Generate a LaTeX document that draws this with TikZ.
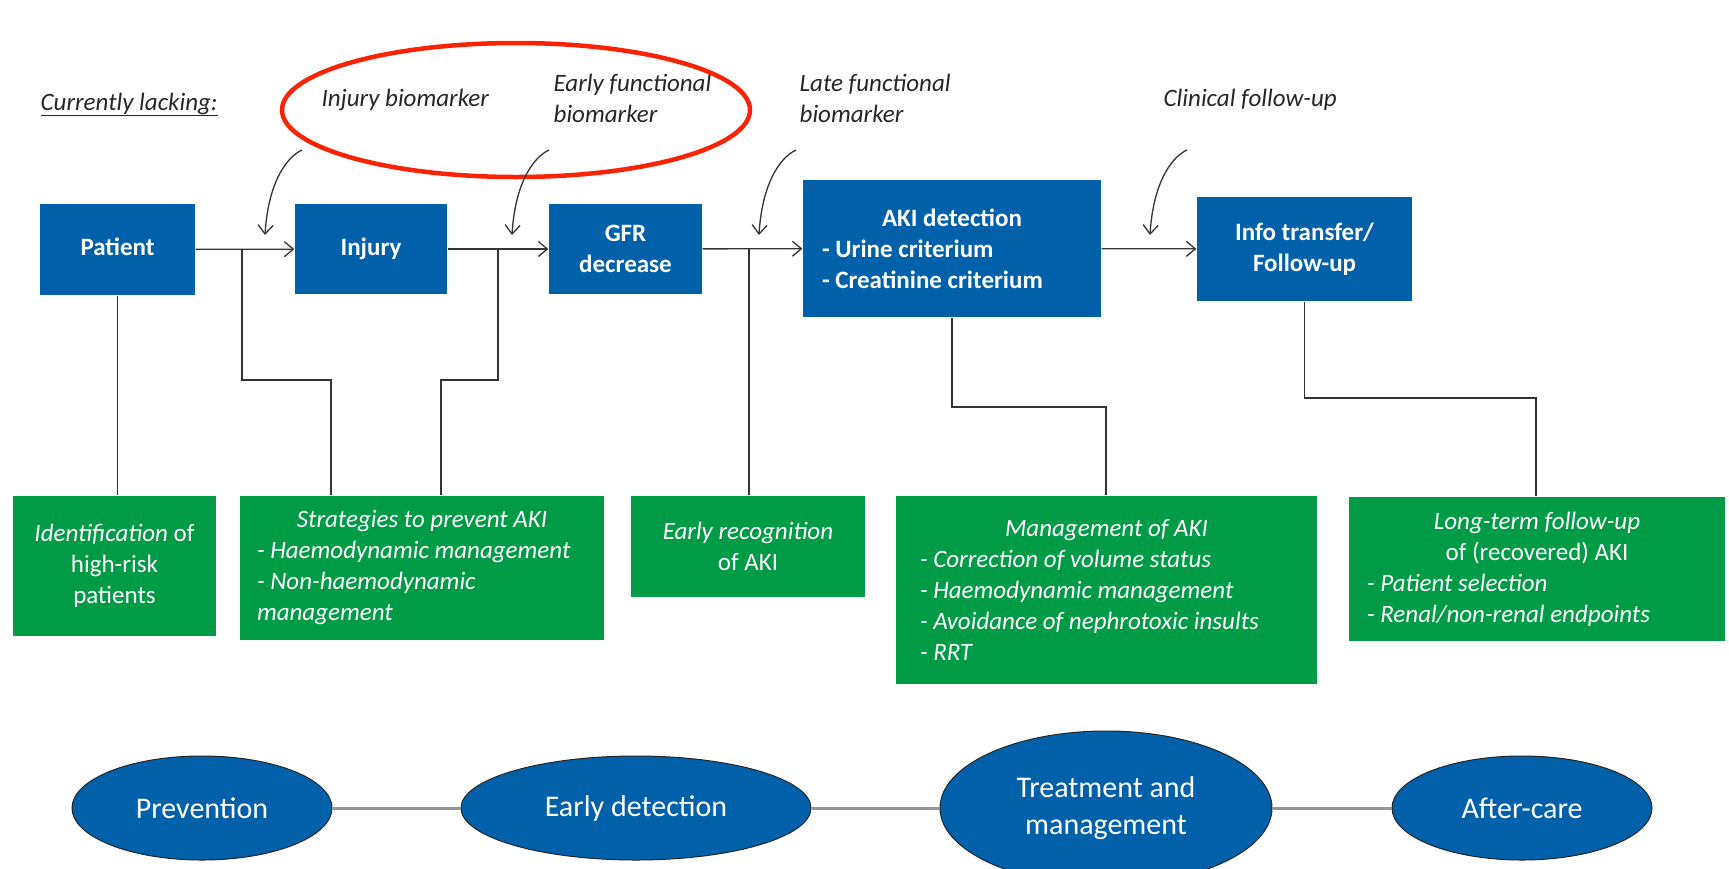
\documentclass[tikz,border=0pt]{standalone}
\usepackage{fontspec}
\setmainfont{Carlito}
\usetikzlibrary{arrows.meta,shapes.geometric}

\definecolor{akiblue}{RGB}{0,97,170}
\definecolor{akigreen}{RGB}{0,155,70}
\definecolor{akired}{RGB}{250,35,5}
\definecolor{linkgray}{RGB}{150,150,150}
\newcommand{\boxfont}{\fontsize{25}{31}\selectfont}

\begin{document}
\begin{tikzpicture}[x=1pt, y=-1pt, line width=1.3pt, draw=black!80,
    >={Straight Barb[length=9pt,width=15pt]},
    bluebox/.style = {fill=akiblue, text=white, font=\boxfont\bfseries, align=center, inner sep=0pt},
    greenbox/.style = {fill=akigreen, text=white, font=\boxfont, align=center, inner sep=0pt},
    phase/.style = {ellipse, draw=black!85, line width=1pt, fill=akiblue, text=white,
                    font=\fontsize{30}{37}\selectfont, align=center, inner sep=0pt},
    lack/.style = {text=black!85, font=\boxfont\itshape, align=left, inner sep=0pt, anchor=west},
    phaselink/.style = {draw=linkgray, line width=3pt}]

    \useasboundingbox (0,0) rectangle (1729,868);

    % currently lacking
    \node [lack, anchor=base west] (lacking) at (40,110) {\underline{Currently lacking:}};
    \node [lack] (injmark) at (321,100) {Injury biomarker};
    \node [lack] (earlymark) at (553,98) {Early functional\\biomarker};
    \node [lack] (latemark) at (799,98) {Late functional\\biomarker};
    \node [lack] (clinfollow) at (1163,100) {Clinical follow-up};
    \draw [akired, line width=4.5pt] (516,110) ellipse [x radius=234pt, y radius=67pt];

    % care pathway
    \node [bluebox, minimum width=155pt, minimum height=91pt] (patient) at (117.5,249.5) {\strut Patient};
    \node [bluebox, minimum width=152pt, minimum height=90pt] (injury) at (371,249) {\strut Injury};
    \node [bluebox, minimum width=153pt, minimum height=90pt] (gfr) at (625.5,249) {GFR\\decrease};
    \node [bluebox, align=left, inner xsep=19pt, minimum height=137pt] (aki) at (952,248.5)
        {\makebox[260pt]{AKI detection}\\- Urine criterium\\- Creatinine criterium};
    \node [bluebox, minimum width=215pt, minimum height=104pt] (info) at (1304.5,249) {Info transfer/\\Follow-up};

    \draw[->] (patient) to (injury);
    \draw[->] (injury) to (gfr);
    \draw[->] (gfr) to (aki);
    \draw[->] (aki) to (info);

    % biomarker arrows
    \coordinate (s1) at (302,150); \coordinate (t1) at (265,235);
    \coordinate (s2) at (549,150); \coordinate (t2) at (512,235);
    \coordinate (s3) at (796,150); \coordinate (t3) at (759,235);
    \coordinate (s4) at (1187,150); \coordinate (t4) at (1150,235);
    \draw[->] (s1) .. controls +(-17,8) and +(3,-50) .. (t1);
    \draw[->] (s2) .. controls +(-17,8) and +(3,-50) .. (t2);
    \draw[->] (s3) .. controls +(-17,8) and +(3,-50) .. (t3);
    \draw[->] (s4) .. controls +(-17,8) and +(3,-50) .. (t4);

    % actions
    \node [greenbox, minimum width=203pt, minimum height=140pt] (ident) at (114.5,566)
        {\textit{Identification} of\\high-risk\\patients};
    \node [greenbox, font=\boxfont\itshape, align=left, inner xsep=17pt, minimum height=144pt] (strategy) at (422,568)
        {\makebox[330pt]{Strategies to prevent AKI}\\- Haemodynamic management\\- Non-haemodynamic\\management};
    \node [greenbox, minimum width=234pt, minimum height=101pt] (recog) at (748,546.5)
        {\textit{Early recognition}\\of AKI};
    \node [greenbox, font=\boxfont\itshape, align=left, inner xsep=24pt, minimum height=188pt] (manage) at (1106.5,590)
        {\makebox[373pt]{Management of AKI}\\- Correction of volume status\\- Haemodynamic management\\- Avoidance of nephrotoxic insults\\- RRT};
    \node [greenbox, align=left, inner xsep=18pt, minimum height=144pt] (longterm) at (1537,569)
        {\makebox[340pt]{\textit{Long-term follow-up}}\\\makebox[340pt]{of (recovered) AKI}\\\textit{- Patient selection}\\\textit{- Renal/non-renal endpoints}};

    % branches
    \coordinate (j1) at (242,249); \coordinate (k1) at (331,380);
    \coordinate (j2) at (498,249); \coordinate (k2) at (441,380);
    \coordinate (j3) at (749,249);
    \coordinate (k4) at (1106,407);
    \coordinate (k5) at (1536,398);
    \draw (patient.south) -- (patient.south |- ident.north);
    \draw (j1) |- (k1) -- (k1 |- strategy.north);
    \draw (j2) |- (k2) -- (k2 |- strategy.north);
    \draw (j3) -- (j3 |- recog.north);
    \draw (aki.south) |- (k4) -- (k4 |- manage.north);
    \draw (info.south) |- (k5) -- (k5 |- longterm.north);

    % phases
    \node [phase, minimum width=260pt, minimum height=104pt] (prevention) at (202,808) {Prevention};
    \node [phase, minimum width=350pt, minimum height=104pt] (earlydet) at (636,808) {Early detection};
    \node [phase, minimum width=332pt, minimum height=154pt] (treatment) at (1106,808) {Treatment and\\management};
    \node [phase, minimum width=260pt, minimum height=104pt] (aftercare) at (1522,808) {After-care};

    \draw[phaselink] (prevention) -- (earlydet);
    \draw[phaselink] (earlydet) -- (treatment);
    \draw[phaselink] (treatment) -- (aftercare);

\end{tikzpicture}
\end{document}
